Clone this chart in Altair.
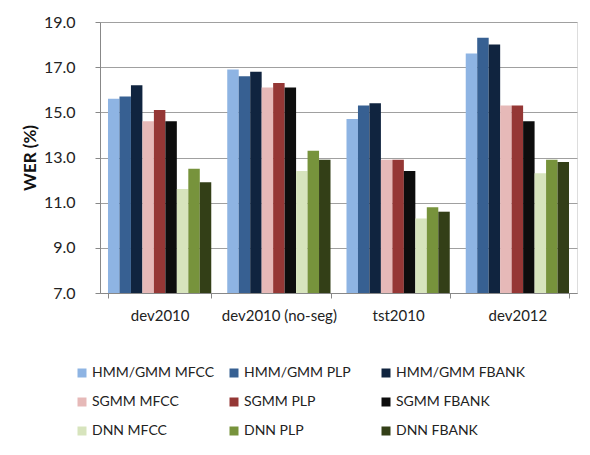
import altair as alt
import pandas as pd

groups = ["dev2010", "dev2010 (no-seg)", "tst2010", "dev2012"]
series = ["HMM/GMM MFCC", "HMM/GMM PLP", "HMM/GMM FBANK",
          "SGMM MFCC", "SGMM PLP", "SGMM FBANK",
          "DNN MFCC", "DNN PLP", "DNN FBANK"]
colors = ["#8EB4E3", "#376092", "#10243F",
          "#E6B9B8", "#953735", "#0D0D0D",
          "#D7E4BD", "#77933C", "#333F17"]
values = {
    "dev2010":          [15.6, 15.7, 16.2, 14.6, 15.1, 14.6, 11.6, 12.5, 11.9],
    "dev2010 (no-seg)": [16.9, 16.6, 16.8, 16.1, 16.3, 16.1, 12.4, 13.3, 12.9],
    "tst2010":          [14.7, 15.3, 15.4, 12.9, 12.9, 12.4, 10.3, 10.8, 10.6],
    "dev2012":          [17.6, 18.3, 18.0, 15.3, 15.3, 14.6, 12.3, 12.9, 12.8],
}
y_ticks = [7, 9, 11, 13, 15, 17, 19]

rows = []
for g in groups:
    for s, v in zip(series, values[g]):
        rows.append({"group": g, "series": s, "value": v, "base": 7})
df = pd.DataFrame(rows)

FONT = "Lato"

bars = alt.Chart(df).mark_bar(clip=True).encode(
    x=alt.X("group:N", sort=groups, title=None,
            scale=alt.Scale(paddingInner=0.134, paddingOuter=0.067),
            axis=alt.Axis(labelAngle=0, tickBand="extent", labelFontSize=15,
                          labelColor="#222", labelFont=FONT, labelPadding=10,
                          domainColor="#888", tickColor="#888", tickSize=5,
                          grid=False)),
    xOffset=alt.XOffset("series:N", sort=series,
                        scale=alt.Scale(paddingInner=0, paddingOuter=0)),
    y=alt.Y("value:Q", title="WER (%)",
            scale=alt.Scale(domain=[7, 19], nice=False, zero=False),
            axis=alt.Axis(values=y_ticks, format=".1f", labelFontSize=16,
                          labelColor="#222", labelFont=FONT, labelPadding=20,
                          tickSize=5, tickColor="#888", domainColor="#888",
                          gridColor="#A0A0A0", titleFont=FONT, titleFontSize=17,
                          titleFontWeight="bold", titleColor="#111",
                          titlePadding=4)),
    y2="base:Q",
    color=alt.Color("series:N", sort=series,
                    scale=alt.Scale(domain=series, range=colors),
                    legend=alt.Legend(title=None, orient="none", legendX=-25,
                                      legendY=344, columns=3, direction="horizontal",
                                      symbolType="square",
                                      symbolSize=81, symbolStrokeWidth=0,
                                      labelFont=FONT, labelFontSize=14,
                                      labelColor="#222", gridAlign="all",
                                      columnPadding=6, rowPadding=15,
                                      labelLimit=200, symbolOffset=0,
                                      labelOffset=3)),
)

frame_top = alt.Chart(pd.DataFrame({"a": [0]})).mark_rule(
    stroke="#999", strokeWidth=1.5
).encode(x=alt.value(-95), x2=alt.value(482), y=alt.value(-19))
frame_left = alt.Chart(pd.DataFrame({"a": [0]})).mark_rule(
    stroke="#999", strokeWidth=1.5
).encode(x=alt.value(-95), y=alt.value(-19), y2=alt.value(425))

chart = alt.layer(frame_top, frame_left, bars).properties(
    width=477, height=271,
    autosize=alt.AutoSizeParams(type="none"),
    padding={"left": 92, "top": 14, "right": 5, "bottom": 154},
).configure_view(stroke=None).configure(background="white")

chart.save("out.html", embed_options={"renderer": "svg", "actions": False})
